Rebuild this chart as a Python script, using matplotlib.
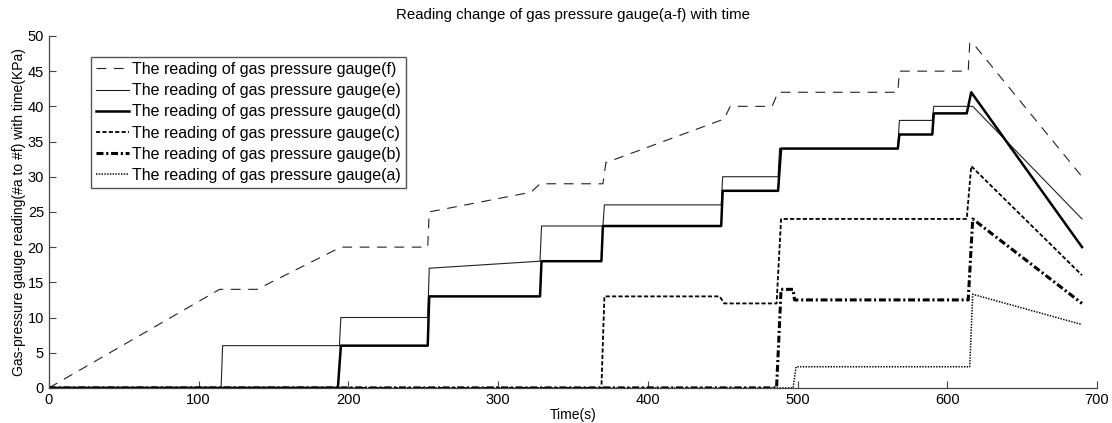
import matplotlib
matplotlib.use("Agg")
import matplotlib.pyplot as plt

plt.rcParams.update({
    "font.family": ["Liberation Sans", "DejaVu Sans"],
    "font.size": 10,
    "lines.scale_dashes": False,
})

# lecturas de los manómetros (a-f), tiempo en s, presión en KPa
f_t = [0, 114, 139, 195, 253, 254, 322, 328, 370, 372, 451, 455, 483, 487, 567, 568, 614, 615, 617, 690]
f_v = [0, 14, 14, 20, 20, 25, 27.8, 29, 29, 32, 38.2, 40, 40, 42, 42, 45, 45, 49, 49, 30]

e_t = [0, 115, 116, 194, 195, 253, 254, 328, 329, 370, 371, 449, 450, 487, 488, 567, 568, 590, 591, 615, 617, 690]
e_v = [0, 0, 6, 6, 10, 10, 17, 18, 23, 23, 26, 26, 30, 30, 34, 34, 38, 38, 40, 40, 40, 24]

d_t = [0, 193, 195, 253, 254, 328, 329, 369, 370, 449, 450, 487, 489, 567, 568, 590, 591, 613, 616, 690]
d_v = [0, 0, 6, 6, 13, 13, 18, 18, 23, 23, 28, 28, 34, 34, 36, 36, 39, 39, 42, 20]

c_t = [0, 369, 371, 448, 451, 486, 489, 613, 616, 690]
c_v = [0, 0, 13, 13, 12, 12, 24, 24, 31.5, 16]

b_t = [0, 486, 489, 497, 498, 614, 617, 690]
b_v = [0, 0, 14, 14, 12.5, 12.5, 24, 12]

a_t = [0, 497, 499, 615, 617, 690]
a_v = [0, 0, 3, 3, 13.3, 9]

fig = plt.figure(figsize=(11.12, 4.23), dpi=100)
ax = fig.add_axes([0.044, 0.083, 0.9425, 0.832])

ax.plot(f_t, f_v, color="#222222", lw=0.8, dashes=(7, 5.5),
        label="The reading of gas pressure gauge(f)")
ax.plot(e_t, e_v, color="#222222", lw=0.8,
        label="The reading of gas pressure gauge(e)")
ax.plot(d_t, d_v, color="black", lw=1.8,
        label="The reading of gas pressure gauge(d)")
ax.plot(c_t, c_v, color="black", lw=1.3, dashes=(3, 1.6),
        label="The reading of gas pressure gauge(c)")
ax.plot(b_t, b_v, color="black", lw=2.2, dashes=(5, 2, 1.5, 2),
        label="The reading of gas pressure gauge(b)")
ax.plot(a_t, a_v, color="black", lw=1.1, dashes=(1, 1),
        label="The reading of gas pressure gauge(a)")

ax.set_xlim(0, 700)
ax.set_ylim(0, 50)
ax.set_xticks(range(0, 701, 100))
ax.set_yticks(range(0, 51, 5))
ax.tick_params(direction="in", length=5, width=0.8, color="#444444",
               labelsize=10.5)
for s in ("top", "right"):
    ax.spines[s].set_visible(False)
for s in ("left", "bottom"):
    ax.spines[s].set_color("#444444")
    ax.spines[s].set_linewidth(0.9)

ax.set_xlabel("Time(s)", labelpad=1)
ax.set_ylabel("Gas-pressure gauge reading(#a to #f) with time(KPa)", labelpad=1)
ax.set_title("Reading change of gas pressure gauge(a-f) with time",
             fontsize=10.8, pad=12)

leg = ax.legend(loc="upper left", bbox_to_anchor=(0.04, 0.94), fancybox=False,
                framealpha=1, edgecolor="#555555", handlelength=2.1,
                handletextpad=0.2, labelspacing=0.39, borderpad=0.3,
                borderaxespad=0, prop={"size": 11.5})
leg.get_frame().set_linewidth(1.0)

fig.savefig("out.png", dpi=100)
